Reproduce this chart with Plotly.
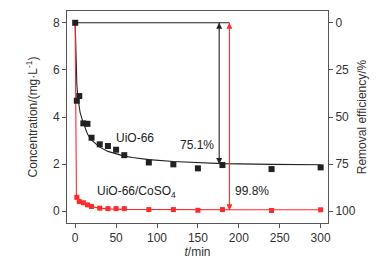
import plotly.graph_objects as go

# ---- data ----
t_pts = [0, 2, 5, 10, 15, 20, 30, 40, 50, 60, 90, 120, 150, 180, 240, 300]
uio_pts = [8.0, 4.69, 4.89, 3.73, 3.71, 3.12, 2.84, 2.77, 2.61, 2.38, 2.07, 1.99, 1.82, 1.96, 1.79, 1.86]
co_pts_t = [2, 5, 10, 15, 20, 30, 40, 50, 60, 90, 120, 150, 180, 240, 300]
co_pts = [0.59, 0.41, 0.36, 0.27, 0.20, 0.13, 0.11, 0.11, 0.11, 0.07, 0.07, 0.04, 0.07, 0.03, 0.06]

fit_t = [0, 1, 2, 3, 4, 6, 8, 10, 15, 20, 30, 40, 50, 60, 70, 90, 120, 150, 180, 240, 300]
uio_fit = [8.0, 6.4, 5.4, 4.9, 4.6, 4.2, 3.95, 3.75, 3.28, 3.02, 2.72, 2.54, 2.43, 2.34, 2.28, 2.19, 2.11, 2.06, 2.02, 1.99, 1.97]
co_fit_t = [0, 0.5, 1, 1.5, 2, 5, 10, 15, 20, 30, 40, 60, 100, 150, 200, 300]
co_fit = [8.0, 4.0, 1.2, 0.72, 0.6, 0.45, 0.33, 0.25, 0.19, 0.13, 0.10, 0.08, 0.07, 0.065, 0.06, 0.06]

arrow_t = [176, 188.5]
arrow_top = [8.0, 8.0]
arrow_bottom = [2.0, 0.04]
arrow_colors = ["#222222", "#ff2a2a"]

labels = ["UiO-66", "75.1%", "UiO-66/CoSO<sub>4</sub>", "99.8%"]
label_t = [73, 149, 75, 216]
label_c = [3.1, 2.8, 0.82, 0.84]

x_ticks = [0, 50, 100, 150, 200, 250, 300]
y_ticks = [0, 2, 4, 6, 8]
y2_ticks = [0, 25, 50, 75, 100]

C0 = 8.0
y_range = [-0.5, 8.5]
y2_range = [(1 - y_range[0] / C0) * 100, (1 - y_range[1] / C0) * 100]

BLACK = "#222222"
RED = "#ff2a2a"
AX = "#555555"
FONT = "Liberation Sans, Arial, sans-serif"

fig = go.Figure()
fig.add_trace(go.Scatter(x=fit_t, y=uio_fit, mode="lines", line=dict(color=BLACK, width=1.1), showlegend=False))
fig.add_trace(go.Scatter(x=co_fit_t, y=co_fit, mode="lines", line=dict(color=RED, width=1.1), showlegend=False))
fig.add_trace(go.Scatter(x=t_pts, y=uio_pts, mode="markers",
                         marker=dict(symbol="square", size=6, color=BLACK), showlegend=False))
fig.add_trace(go.Scatter(x=co_pts_t, y=co_pts, mode="markers",
                         marker=dict(symbol="square", size=5, color=RED), showlegend=False))
# invisible trace to activate right axis
fig.add_trace(go.Scatter(x=[0], y=[0], yaxis="y2", mode="markers", marker=dict(opacity=0), showlegend=False, hoverinfo="skip"))

# horizontal reference line at initial concentration
fig.add_trace(go.Scatter(x=[0, arrow_t[1]], y=[C0, C0], mode="lines", line=dict(color=BLACK, width=1.1), showlegend=False))

# double-headed vertical arrows
for xt, y0, y1, c in zip(arrow_t, arrow_top, arrow_bottom, arrow_colors):
    fig.add_trace(go.Scatter(x=[xt, xt], y=[y0, y1], mode="lines+markers",
                             line=dict(color=c, width=1.1),
                             marker=dict(symbol=["arrow-up", "arrow-down"], size=6, color=c,
                                         line=dict(width=0)),
                             showlegend=False, hoverinfo="skip"))

for txt, xt, yc in zip(labels, label_t, label_c):
    fig.add_annotation(x=xt, y=yc, xref="x", yref="y", text=txt, showarrow=False,
                       font=dict(size=12, color=BLACK, family=FONT))

# page body has an 8px default margin, so the figure is sized to fill the rest of the window
fig.update_layout(
    width=378, height=260,
    margin=dict(l=59, r=58, t=3, b=45),
    paper_bgcolor="white", plot_bgcolor="white",
    font=dict(family=FONT, size=12, color="#333333"),
    xaxis=dict(range=[-10, 309], tickvals=x_ticks, showgrid=False, zeroline=False,
               showline=True, linecolor=AX, linewidth=1, mirror=True, automargin=False,
               ticks="outside", ticklen=4, tickcolor=AX,
               title=dict(text="<i>t</i>/min", standoff=1, font=dict(size=12))),
    yaxis=dict(range=y_range, tickvals=y_ticks, showgrid=False, zeroline=False,
               showline=True, linecolor=AX, linewidth=1, automargin=False,
               ticks="outside", ticklen=4, tickcolor=AX,
               title=dict(text="Concentration/(mg·L<sup>-1</sup>)", standoff=12, font=dict(size=12))),
    yaxis2=dict(range=y2_range, tickvals=y2_ticks, overlaying="y", side="right",
                showgrid=False, zeroline=False, showline=True, linecolor=AX, linewidth=1,
                automargin=False, ticks="outside", ticklen=4, tickcolor=AX,
                title=dict(text="Removal efficiency/%", standoff=2, font=dict(size=12))),
)

fig.write_html("out.html")
